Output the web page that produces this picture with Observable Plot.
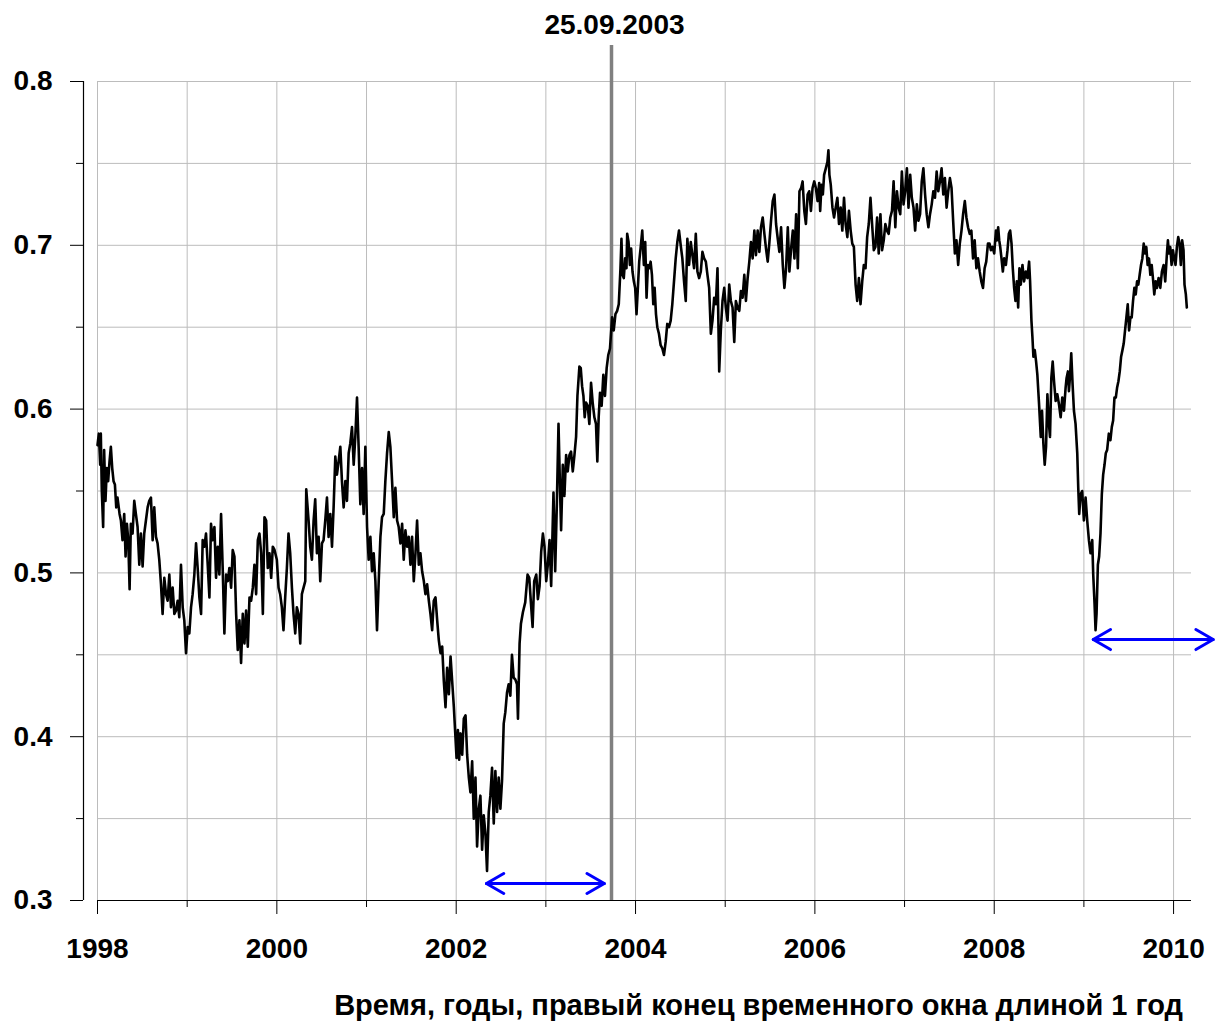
<!DOCTYPE html>
<html>
<head>
<meta charset="utf-8">
<script src="https://cdn.jsdelivr.net/npm/d3@7"></script>
<script src="https://cdn.jsdelivr.net/npm/@observablehq/plot@0.6"></script>
<style>
  html, body { margin: 0; padding: 0; background: #fff; }
  #wrap { position: relative; width: 1215px; height: 1025px; }
  #caption {
    position: absolute; left: 0; top: 990px; width: 1183px;
    text-align: right; font: bold 29px Arial, "Liberation Sans", sans-serif;
    line-height: 30px; color: #000; white-space: nowrap;
  }
</style>
</head>
<body>
<div id="wrap"><div id="chart"></div><div id="caption"></div></div>
<script>
// ---- data (year, value) ----
const ser1998 = [
[1998.000,0.578],[1998.015,0.585],[1998.030,0.566],[1998.037,0.585],[1998.048,0.550],[1998.063,0.528],[1998.074,0.575],[1998.089,0.544],[1998.104,0.564],[1998.119,0.556],[1998.134,0.568],[1998.149,0.577],[1998.164,0.564],[1998.179,0.556],[1998.194,0.554],[1998.209,0.540],[1998.223,0.546],[1998.246,0.536],[1998.261,0.532],[1998.279,0.520],[1998.298,0.536],[1998.313,0.510],[1998.328,0.530],[1998.343,0.520],[1998.358,0.490],[1998.372,0.530],[1998.391,0.524],[1998.410,0.544],[1998.428,0.536],[1998.447,0.528],[1998.466,0.505],[1998.484,0.524],[1998.503,0.504],[1998.521,0.524],[1998.540,0.532],[1998.559,0.540],[1998.577,0.544],[1998.596,0.546],[1998.615,0.520],[1998.633,0.540],[1998.652,0.522],[1998.670,0.518],[1998.689,0.508],[1998.708,0.493],[1998.726,0.475],[1998.745,0.497],[1998.764,0.487],[1998.782,0.483],[1998.801,0.499],[1998.819,0.479],[1998.838,0.491],[1998.857,0.475],[1998.875,0.477],[1998.894,0.483],[1998.912,0.473],[1998.931,0.505],[1998.950,0.479],[1998.968,0.471],[1998.987,0.451]
];
const ser1999 = [
[1999.006,0.467],[1999.024,0.463],[1999.043,0.479],[1999.061,0.487],[1999.080,0.499],[1999.099,0.518],[1999.117,0.503],[1999.136,0.485],[1999.155,0.475],[1999.173,0.520],[1999.192,0.516],[1999.210,0.524],[1999.229,0.505],[1999.248,0.485],[1999.266,0.530],[1999.285,0.520],[1999.304,0.528],[1999.322,0.497],[1999.341,0.516],[1999.359,0.499],[1999.378,0.536],[1999.397,0.501],[1999.415,0.463],[1999.434,0.499],[1999.453,0.495],[1999.471,0.503],[1999.490,0.491],[1999.508,0.514],[1999.527,0.510],[1999.546,0.475],[1999.564,0.453],[1999.583,0.471],[1999.601,0.445],[1999.620,0.475],[1999.639,0.457],[1999.657,0.477],[1999.676,0.455],[1999.695,0.485],[1999.713,0.483],[1999.732,0.491],[1999.750,0.505],[1999.769,0.487],[1999.788,0.520],[1999.806,0.524],[1999.825,0.512],[1999.844,0.475],[1999.862,0.534],[1999.881,0.532],[1999.899,0.503],[1999.918,0.512],[1999.937,0.497],[1999.955,0.516],[1999.974,0.514],[2000.000,0.508]
];
const ser2000 = [
[2000.019,0.491],[2000.037,0.487],[2000.056,0.479],[2000.074,0.465],[2000.093,0.485],[2000.112,0.503],[2000.130,0.524],[2000.149,0.512],[2000.168,0.491],[2000.186,0.475],[2000.205,0.463],[2000.223,0.479],[2000.242,0.475],[2000.261,0.457],[2000.279,0.487],[2000.298,0.491],[2000.317,0.495],[2000.328,0.551],[2000.354,0.532],[2000.372,0.516],[2000.391,0.508],[2000.410,0.532],[2000.428,0.545],[2000.447,0.512],[2000.466,0.522],[2000.484,0.495],[2000.503,0.518],[2000.521,0.520],[2000.540,0.532],[2000.559,0.546],[2000.577,0.522],[2000.596,0.536],[2000.615,0.516],[2000.633,0.540],[2000.652,0.571],[2000.670,0.560],[2000.689,0.568],[2000.708,0.577],[2000.726,0.556],[2000.745,0.540],[2000.764,0.556],[2000.782,0.544],[2000.801,0.573],[2000.819,0.579],[2000.838,0.589],[2000.857,0.566],[2000.875,0.583],[2000.894,0.607],[2000.912,0.577],[2000.931,0.542],[2000.950,0.564],[2000.968,0.536],[2000.987,0.577]
];
const ser2001 = [
[2001.006,0.528],[2001.024,0.508],[2001.043,0.522],[2001.061,0.501],[2001.080,0.512],[2001.099,0.495],[2001.117,0.465],[2001.136,0.495],[2001.155,0.522],[2001.173,0.534],[2001.192,0.536],[2001.210,0.556],[2001.229,0.573],[2001.248,0.586],[2001.266,0.577],[2001.285,0.556],[2001.304,0.534],[2001.322,0.552],[2001.341,0.532],[2001.359,0.528],[2001.378,0.518],[2001.397,0.530],[2001.415,0.508],[2001.434,0.526],[2001.453,0.516],[2001.471,0.522],[2001.490,0.505],[2001.508,0.522],[2001.527,0.495],[2001.546,0.512],[2001.564,0.532],[2001.583,0.505],[2001.601,0.512],[2001.620,0.501],[2001.639,0.495],[2001.657,0.487],[2001.676,0.493],[2001.695,0.483],[2001.713,0.475],[2001.732,0.465],[2001.750,0.483],[2001.769,0.485],[2001.788,0.471],[2001.806,0.459],[2001.825,0.451],[2001.844,0.455],[2001.862,0.434],[2001.881,0.418],[2001.899,0.442],[2001.918,0.426],[2001.937,0.449],[2001.955,0.434],[2001.974,0.418]
];
const ser2002 = [
[2002.004,0.387],[2002.019,0.404],[2002.033,0.386],[2002.048,0.402],[2002.067,0.389],[2002.085,0.411],[2002.104,0.413],[2002.122,0.389],[2002.141,0.375],[2002.159,0.366],[2002.178,0.385],[2002.196,0.350],[2002.215,0.375],[2002.233,0.333],[2002.252,0.356],[2002.270,0.364],[2002.289,0.331],[2002.307,0.352],[2002.326,0.341],[2002.344,0.318],[2002.363,0.354],[2002.381,0.364],[2002.400,0.381],[2002.419,0.347],[2002.437,0.379],[2002.456,0.354],[2002.474,0.375],[2002.493,0.356],[2002.511,0.373],[2002.530,0.408],[2002.548,0.415],[2002.567,0.427],[2002.585,0.432],[2002.604,0.425],[2002.622,0.450],[2002.641,0.436],[2002.659,0.435],[2002.678,0.432],[2002.689,0.411],[2002.707,0.457],[2002.722,0.469],[2002.744,0.476],[2002.770,0.482],[2002.796,0.499],[2002.815,0.497],[2002.833,0.482],[2002.852,0.467],[2002.870,0.495],[2002.893,0.499],[2002.911,0.484],[2002.930,0.492],[2002.948,0.513],[2002.967,0.524],[2002.985,0.516]
];
const ser2003 = [
[2003.004,0.495],[2003.022,0.505],[2003.041,0.520],[2003.059,0.492],[2003.074,0.524],[2003.085,0.549],[2003.104,0.501],[2003.122,0.541],[2003.141,0.591],[2003.159,0.549],[2003.170,0.526],[2003.189,0.566],[2003.207,0.547],[2003.226,0.572],[2003.244,0.562],[2003.263,0.572],[2003.281,0.574],[2003.300,0.562],[2003.319,0.572],[2003.337,0.583],[2003.352,0.608],[2003.374,0.626],[2003.389,0.625],[2003.404,0.614],[2003.419,0.608],[2003.433,0.595],[2003.448,0.604],[2003.467,0.602],[2003.485,0.591],[2003.504,0.616],[2003.522,0.604],[2003.541,0.595],[2003.559,0.591],[2003.574,0.568],[2003.589,0.595],[2003.604,0.610],[2003.622,0.602],[2003.641,0.621],[2003.659,0.608],[2003.678,0.625],[2003.696,0.633],[2003.715,0.637],[2003.739,0.656],[2003.757,0.648],[2003.776,0.658],[2003.795,0.660],[2003.813,0.664],[2003.832,0.686],[2003.843,0.704],[2003.854,0.682],[2003.869,0.680],[2003.884,0.692],[2003.899,0.686],[2003.907,0.707],[2003.922,0.702],[2003.937,0.688],[2003.951,0.698],[2003.966,0.684],[2003.981,0.678],[2003.996,0.674]
];
const ser2004 = [
[2004.011,0.658],[2004.026,0.674],[2004.041,0.690],[2004.056,0.698],[2004.075,0.709],[2004.093,0.688],[2004.108,0.702],[2004.123,0.668],[2004.138,0.688],[2004.153,0.686],[2004.168,0.690],[2004.183,0.682],[2004.198,0.664],[2004.213,0.674],[2004.228,0.658],[2004.243,0.650],[2004.261,0.646],[2004.280,0.639],[2004.299,0.637],[2004.317,0.633],[2004.336,0.641],[2004.354,0.652],[2004.373,0.650],[2004.392,0.654],[2004.410,0.664],[2004.429,0.678],[2004.448,0.692],[2004.466,0.702],[2004.485,0.709],[2004.504,0.700],[2004.522,0.692],[2004.541,0.678],[2004.560,0.666],[2004.578,0.704],[2004.597,0.688],[2004.616,0.702],[2004.634,0.694],[2004.653,0.686],[2004.672,0.707],[2004.690,0.684],[2004.709,0.680],[2004.728,0.684],[2004.746,0.696],[2004.765,0.692],[2004.784,0.690],[2004.802,0.682],[2004.821,0.674],[2004.840,0.646],[2004.858,0.654],[2004.877,0.668],[2004.896,0.664],[2004.914,0.686],[2004.933,0.623],[2004.951,0.648],[2004.970,0.666],[2004.989,0.674]
];
const ser2005 = [
[2005.007,0.662],[2005.026,0.654],[2005.045,0.676],[2005.063,0.666],[2005.082,0.662],[2005.101,0.641],[2005.119,0.666],[2005.138,0.662],[2005.157,0.660],[2005.175,0.672],[2005.194,0.668],[2005.213,0.682],[2005.231,0.666],[2005.250,0.680],[2005.269,0.690],[2005.287,0.702],[2005.306,0.692],[2005.325,0.709],[2005.343,0.694],[2005.362,0.709],[2005.381,0.696],[2005.399,0.711],[2005.418,0.717],[2005.437,0.707],[2005.455,0.698],[2005.474,0.690],[2005.493,0.702],[2005.511,0.715],[2005.530,0.727],[2005.549,0.731],[2005.567,0.713],[2005.586,0.704],[2005.604,0.696],[2005.623,0.711],[2005.642,0.688],[2005.660,0.674],[2005.679,0.686],[2005.698,0.711],[2005.716,0.684],[2005.735,0.698],[2005.754,0.709],[2005.772,0.692],[2005.791,0.719],[2005.810,0.686],[2005.828,0.733],[2005.847,0.735],[2005.863,0.739],[2005.882,0.721],[2005.900,0.713],[2005.919,0.731],[2005.937,0.733],[2005.956,0.721],[2005.974,0.735],[2005.993,0.739]
];
const ser2006 = [
[2006.011,0.735],[2006.030,0.727],[2006.048,0.738],[2006.059,0.721],[2006.074,0.737],[2006.089,0.731],[2006.103,0.743],[2006.122,0.747],[2006.140,0.751],[2006.151,0.758],[2006.162,0.743],[2006.177,0.737],[2006.196,0.723],[2006.214,0.717],[2006.232,0.723],[2006.251,0.729],[2006.269,0.713],[2006.288,0.723],[2006.306,0.709],[2006.325,0.729],[2006.343,0.713],[2006.362,0.705],[2006.380,0.721],[2006.399,0.709],[2006.417,0.701],[2006.435,0.699],[2006.454,0.676],[2006.472,0.666],[2006.491,0.680],[2006.509,0.664],[2006.528,0.678],[2006.546,0.688],[2006.565,0.686],[2006.583,0.705],[2006.601,0.713],[2006.620,0.729],[2006.638,0.713],[2006.657,0.697],[2006.675,0.699],[2006.694,0.717],[2006.712,0.695],[2006.731,0.719],[2006.749,0.697],[2006.768,0.703],[2006.786,0.713],[2006.804,0.709],[2006.823,0.707],[2006.841,0.717],[2006.860,0.721],[2006.878,0.739],[2006.897,0.711],[2006.915,0.733],[2006.934,0.723],[2006.952,0.719],[2006.970,0.745],[2006.989,0.725]
];
const ser2007 = [
[2007.007,0.733],[2007.026,0.747],[2007.044,0.723],[2007.063,0.743],[2007.081,0.729],[2007.100,0.723],[2007.118,0.709],[2007.137,0.725],[2007.155,0.715],[2007.173,0.719],[2007.192,0.739],[2007.210,0.747],[2007.229,0.731],[2007.247,0.719],[2007.266,0.711],[2007.284,0.719],[2007.303,0.725],[2007.321,0.733],[2007.339,0.729],[2007.358,0.745],[2007.376,0.733],[2007.395,0.739],[2007.413,0.747],[2007.432,0.731],[2007.450,0.741],[2007.469,0.723],[2007.487,0.733],[2007.506,0.741],[2007.524,0.735],[2007.542,0.715],[2007.561,0.695],[2007.579,0.703],[2007.598,0.688],[2007.616,0.701],[2007.635,0.709],[2007.653,0.719],[2007.672,0.727],[2007.690,0.717],[2007.708,0.711],[2007.727,0.707],[2007.745,0.709],[2007.764,0.692],[2007.782,0.703],[2007.801,0.686],[2007.819,0.692],[2007.838,0.684],[2007.856,0.678],[2007.875,0.674],[2007.893,0.686],[2007.911,0.690],[2007.930,0.701],[2007.948,0.701],[2007.963,0.697],[2007.981,0.699]
];
const ser2008 = [
[2008.000,0.695],[2008.019,0.709],[2008.030,0.703],[2008.044,0.711],[2008.056,0.703],[2008.067,0.699],[2008.081,0.692],[2008.096,0.684],[2008.111,0.692],[2008.130,0.688],[2008.148,0.697],[2008.163,0.707],[2008.178,0.709],[2008.193,0.701],[2008.207,0.686],[2008.222,0.674],[2008.237,0.666],[2008.252,0.678],[2008.267,0.662],[2008.281,0.686],[2008.296,0.676],[2008.315,0.688],[2008.333,0.678],[2008.352,0.684],[2008.370,0.680],[2008.389,0.690],[2008.400,0.678],[2008.415,0.654],[2008.426,0.644],[2008.437,0.632],[2008.452,0.636],[2008.467,0.629],[2008.481,0.621],[2008.500,0.603],[2008.519,0.583],[2008.533,0.599],[2008.548,0.579],[2008.563,0.566],[2008.578,0.577],[2008.593,0.609],[2008.607,0.593],[2008.622,0.583],[2008.637,0.619],[2008.652,0.629],[2008.667,0.617],[2008.685,0.605],[2008.704,0.609],[2008.722,0.603],[2008.741,0.595],[2008.759,0.607],[2008.778,0.599],[2008.796,0.613],[2008.807,0.619],[2008.822,0.623],[2008.833,0.611],[2008.844,0.619],[2008.859,0.634],[2008.874,0.615],[2008.889,0.599],[2008.907,0.591],[2008.926,0.573],[2008.937,0.552],[2008.948,0.536],[2008.963,0.548],[2008.981,0.550]
];
const ser2009 = [
[2009.000,0.532],[2009.019,0.546],[2009.037,0.532],[2009.056,0.520],[2009.074,0.512],[2009.093,0.520],[2009.104,0.499],[2009.119,0.481],[2009.130,0.465],[2009.141,0.475],[2009.156,0.505],[2009.170,0.510],[2009.185,0.524],[2009.200,0.548],[2009.215,0.560],[2009.230,0.566],[2009.244,0.573],[2009.259,0.575],[2009.278,0.585],[2009.296,0.581],[2009.311,0.589],[2009.326,0.593],[2009.341,0.607],[2009.356,0.607],[2009.370,0.613],[2009.385,0.617],[2009.400,0.623],[2009.415,0.632],[2009.430,0.636],[2009.444,0.640],[2009.459,0.648],[2009.474,0.656],[2009.489,0.664],[2009.504,0.648],[2009.519,0.656],[2009.533,0.656],[2009.548,0.666],[2009.563,0.674],[2009.578,0.670],[2009.593,0.678],[2009.607,0.676],[2009.622,0.682],[2009.637,0.688],[2009.652,0.692],[2009.667,0.701],[2009.681,0.695],[2009.696,0.699],[2009.711,0.688],[2009.726,0.692],[2009.741,0.682],[2009.756,0.688],[2009.770,0.680],[2009.785,0.670],[2009.800,0.678],[2009.815,0.674],[2009.833,0.680],[2009.852,0.674],[2009.870,0.684],[2009.889,0.688],[2009.907,0.678],[2009.926,0.695],[2009.937,0.703],[2009.948,0.695],[2009.963,0.699],[2009.978,0.688],[2009.993,0.697]
];
const ser2010 = [
[2010.007,0.692],[2010.022,0.688],[2010.037,0.699],[2010.052,0.705],[2010.067,0.701],[2010.081,0.688],[2010.096,0.703],[2010.111,0.697],[2010.122,0.676],[2010.137,0.670],[2010.148,0.662]
];

// axes / ticks
const xDomain = [1998, 2010.2];
const yDomain = [0.3, 0.8];
const xMajorTicks = [1998, 2000, 2002, 2004, 2006, 2008, 2010];
const xMinorTicks = [1999, 2001, 2003, 2005, 2007, 2009];
const xGridYears = [1998, 1999, 2000, 2001, 2002, 2003, 2004, 2005, 2006, 2007, 2008, 2009, 2010];
const yMajorTicks = [0.3, 0.4, 0.5, 0.6, 0.7, 0.8];
const yMinorTicks = [0.35, 0.45, 0.55, 0.65, 0.75];
const yGrid = [0.35, 0.4, 0.45, 0.5, 0.55, 0.6, 0.65, 0.7, 0.75, 0.8];

// annotations
const eventDates = [2003.732];
const eventLabels = ["25.09.2003"];
const windowSpans = [
  {from: 2002.337, to: 2003.652, level: 0.3104},
  {from: 2009.104, to: 2010.442, level: 0.4593}
];
const xTitle = "Время, годы, правый конец временного окна длиной 1 год";

const data = [ser1998, ser1999, ser2000, ser2001, ser2002, ser2003, ser2004,
  ser2005, ser2006, ser2007, ser2008, ser2009, ser2010].flat()
  .map(([year, value]) => ({year, value}));

const gridColor = "#bcbcbc";

const chart = Plot.plot({
  width: 1215,
  height: 975,
  marginTop: 81,
  marginBottom: 75,
  marginLeft: 97,
  marginRight: 24,
  style: {fontFamily: "Arial, 'Liberation Sans', sans-serif", fontSize: "28px", fontWeight: "bold", color: "#000", background: "#fff", overflow: "visible"},
  x: {type: "linear", domain: xDomain},
  y: {type: "linear", domain: yDomain},
  marks: [
    Plot.gridY(yGrid, {stroke: gridColor, strokeOpacity: 1, strokeWidth: 1}),
    Plot.gridX(xGridYears, {stroke: gridColor, strokeOpacity: 1, strokeWidth: 1}),
    Plot.ruleX(eventDates, {x: d => d, stroke: "#808080", strokeWidth: 3.5, insetTop: -36}),
    Plot.line(data, {x: "year", y: "value", stroke: "#000", strokeWidth: 2.6, strokeLinejoin: "round"}),
    Plot.arrow(windowSpans, {x1: "from", x2: "to", y1: "level", y2: "level", stroke: "#0000ff", strokeWidth: 3, headLength: 10, headAngle: 60, bend: 0}),
    Plot.arrow(windowSpans, {x1: "to", x2: "from", y1: "level", y2: "level", stroke: "#0000ff", strokeWidth: 3, headLength: 10, headAngle: 60, bend: 0}),
    Plot.text(eventDates, {x: d => d, text: (d, i) => eventLabels[i], frameAnchor: "top", dy: -56, dx: 3, lineAnchor: "middle", textAnchor: "middle", fontSize: 28, fontWeight: "bold", fill: "#000"}),
    // x axis
    Plot.ruleY([yDomain[0]], {stroke: "#000", strokeWidth: 1.2}),
    Plot.axisX(xMinorTicks, {tickSize: 7, tickFormat: () => "", stroke: "#000"}),
    Plot.axisX(xMajorTicks, {tickSize: 14, tickPadding: 24, tickFormat: d => String(d), stroke: "#000", fontSize: 28, fontWeight: "bold"}),
    // y axis (offset to the left of the plotting area)
    Plot.ruleX([xDomain[0]], {dx: -14, stroke: "#000", strokeWidth: 1.2}),
    Plot.axisY(yMinorTicks, {tickSize: 7, dx: -14, tickFormat: () => "", stroke: "#000"}),
    Plot.axisY(yMajorTicks, {tickSize: 13, dx: -14, tickPadding: 18, tickFormat: d3.format(".1f"), stroke: "#000", fontSize: 28, fontWeight: "bold"})
  ]
});
document.getElementById("chart").appendChild(chart);
document.getElementById("caption").textContent = xTitle;
</script>
</body>
</html>
